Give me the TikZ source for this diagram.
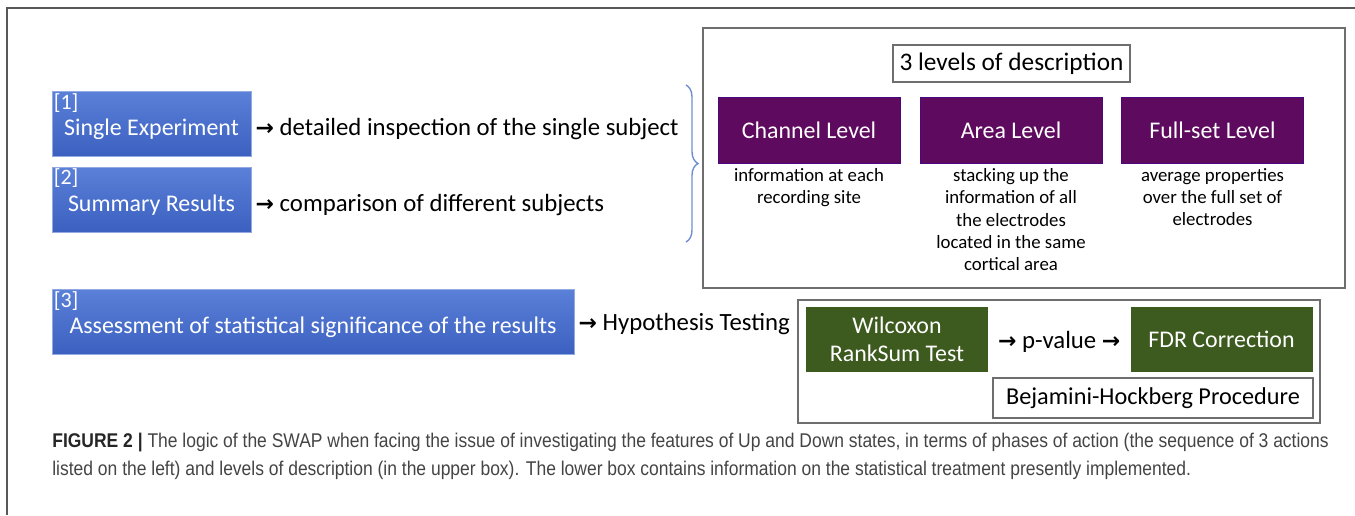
\documentclass[tikz,border=0pt]{standalone}
\usepackage{fontspec}
\setmainfont{Carlito}
\newfontfamily\capfont[FakeStretch=0.88]{Liberation Sans}
\newfontfamily\arrowfont{DejaVu Sans}
\usetikzlibrary{positioning,decorations.pathreplacing,calc}

\definecolor{phaseblue}{HTML}{4A6FCF}
\definecolor{phasetop}{HTML}{5B80D8}
\definecolor{phasebot}{HTML}{3B60C0}
\definecolor{levelpurple}{HTML}{5E0A5E}
\definecolor{testgreen}{HTML}{3D5A1F}
\definecolor{framegray}{HTML}{6E6E6E}
\definecolor{bracecol}{HTML}{6F8FCF}
\definecolor{captext}{HTML}{444444}

\newcommand{\ra}{{\arrowfont\bfseries\fontsize{12.5}{14}\selectfont →}}
\newcommand{\bigtxt}{\fontsize{13.6}{16}\selectfont}
\newcommand{\flowfont}{\fontsize{14.1}{16}\selectfont}
\newcommand{\smalltxt}{\fontsize{10.7}{12.6}\selectfont}

\tikzset{
  phasebox/.style={top color=phasetop, bottom color=phasebot, draw=phaseblue!60,
    minimum height=1.3cm, inner sep=0pt},
  phasename/.style={text=white, inner sep=0pt, font=\bigtxt, yshift=-3pt},
  numtag/.style={text=white, inner sep=1pt, font=\fontsize{12.5}{14}\selectfont},
  levelbox/.style={fill=levelpurple, draw=levelpurple!80!blue, text=white,
    minimum width=3.64cm, minimum height=1.32cm, font=\bigtxt},
  testbox/.style={fill=testgreen, text=white, minimum width=3.64cm,
    minimum height=1.3cm, align=center, font=\fontsize{13.6}{15.9}\selectfont},
  plainbox/.style={draw=framegray, thick, fill=white},
  desc/.style={align=center, font=\smalltxt, inner sep=0pt},
  flowtxt/.style={inner sep=0pt, font=\flowfont, anchor=west}
}

\begin{document}
\begin{tikzpicture}[x=0.02cm, y=-0.02cm]
  \useasboundingbox (0,0) rectangle (1355,515);

  % figure frame (top and left only)
  \draw[framegray!80!black, line width=1.2pt] (7,515) -- (7,8) -- (1355,8);

  % phases of action
  \node[phasebox, minimum width=3.98cm,
        label={[numtag, anchor=north west]north west:[1]},
        label={[phasename]center:Single Experiment}] (single) at (151.5,124) {};
  \node[phasebox, minimum width=3.98cm,
        label={[numtag, anchor=north west]north west:[2]},
        label={[phasename]center:Summary Results}] (summary) at (151.5,199.5) {};
  \node[phasebox, minimum width=10.44cm,
        label={[numtag, anchor=north west]north west:[3]},
        label={[phasename]center:Assessment of statistical significance of the results}] (assess) at (313,322) {};

  \node[flowtxt, right=0.08cm of single.east, yshift=-3pt] (inspect) {\ra\ detailed inspection of the single subject};
  \node[flowtxt, right=0.08cm of summary.east, yshift=-3pt] (compare) {\ra\ comparison of different subjects};
  \node[flowtxt, right=0.08cm of assess.east, yshift=-1pt] (hypo) {\ra\ Hypothesis Testing};

  % brace towards the levels
  \coordinate (bracetop) at (686,85);
  \coordinate (bracebot) at (686,242);
  \draw[bracecol, thick, decorate, decoration={brace, amplitude=0.24cm}] (bracetop) -- (bracebot);

  % levels of description
  \node[plainbox, minimum width=12.84cm, minimum height=5.2cm] (levels) at (1024,158) {};
  \node[plainbox, minimum width=4.74cm, minimum height=0.74cm, font=\fontsize{14.4}{16}\selectfont] (title) at (1011.5,63.5) {3 levels of description};

  \node[levelbox] (channel) at (809,130) {Channel Level};
  \node[levelbox] (area) at (1011,130) {Area Level};
  \node[levelbox] (fullset) at (1212.5,130) {Full-set Level};

  \node[desc, below=0.1cm of channel] (chdesc) {information at each\\recording site};
  \node[desc, below=0.1cm of area] (ardesc) {stacking up the\\information of all\\the electrodes\\located in the same\\cortical area};
  \node[desc, below=0.1cm of fullset] (fsdesc) {average properties\\over the full set of\\electrodes};

  % statistical treatment
  \node[plainbox, minimum width=10.44cm, minimum height=2.46cm] (stats) at (1059,361.5) {};
  \node[testbox] (wilcox) at (897,339.5) {Wilcoxon\\RankSum Test};
  \node[testbox] (fdr) at (1221.5,339.5) {FDR Correction};
  \node[inner sep=0pt, font=\flowfont] (pval) at ($(wilcox.east)!0.5!(fdr.west)+(0,2)$) {\ra\ p-value \ra};
  \node[plainbox, minimum width=6.4cm, minimum height=0.8cm, font=\fontsize{13.8}{16}\selectfont] (bh) at (1153,398) {Bejamini-Hockberg Procedure};

  % caption
  \node[anchor=base west, inner sep=0pt, text=captext, font=\capfont\fontsize{11.3}{12}\selectfont] (cap1) at (52,447)
    {{\bfseries\color{black!85}FIGURE 2 |} The logic of the SWAP when facing the issue of investigating the features of Up and Down states, in terms of phases of action (the sequence of 3 actions};
  \node[anchor=base west, inner sep=0pt, text=captext, font=\capfont\fontsize{11.3}{12}\selectfont] (cap2) at (52,475)
    {listed on the left) and levels of description (in the upper box). The lower box contains information on the statistical treatment presently implemented.};
\end{tikzpicture}
\end{document}
